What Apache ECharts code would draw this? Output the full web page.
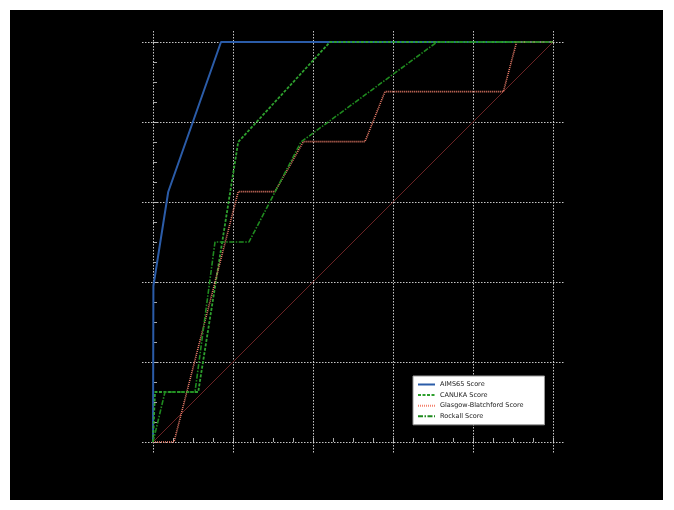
<!DOCTYPE html>
<html>
<head>
<meta charset="utf-8">
<script src="https://cdn.jsdelivr.net/npm/echarts@6/dist/echarts.min.js"></script>
<style>
  body { margin: 0; background: #fff; }
  #wrap { position: absolute; left: 10px; top: 10px; width: 653px; height: 490px; background: #000; }
  #roc { width: 653px; height: 490px; }
</style>
</head>
<body>
<div id="wrap"><div id="roc"></div></div>
<script>
// tick positions
var majorTicks = [0, 0.2, 0.4, 0.6, 0.8, 1.0];
var minorTicks = [0.05, 0.1, 0.15, 0.25, 0.3, 0.35, 0.45, 0.5, 0.55, 0.65, 0.7, 0.75, 0.85, 0.9, 0.95];

// roc curves (fpr / tpr)
var aimsX = [0, 0.001, 0.038, 0.17, 1];
var aimsY = [0, 0.39, 0.625, 1, 1];

var canukaX = [0, 0.005, 0.113, 0.213, 0.4425, 1];
var canukaY = [0, 0.125, 0.125, 0.75, 1, 1];

var glasgowX = [0, 0.0525, 0.213, 0.305, 0.376, 0.53, 0.58, 0.876, 0.909, 1];
var glasgowY = [0, 0, 0.626, 0.626, 0.751, 0.751, 0.876, 0.876, 1, 1];

var rockallX = [0, 0.03, 0.105, 0.155, 0.24, 0.37, 0.71, 1];
var rockallY = [0, 0.125, 0.125, 0.5, 0.5, 0.75, 1, 1];

var chanceX = [0, 1];
var chanceY = [0, 1];

function pairs(xs, ys) {
    var out = [];
    for (var i = 0; i < xs.length; i++) {
        out.push([xs[i], ys[i]]);
    }
    return out;
}

function curve(name, xs, ys, color, width, type) {
    return {
        name: name,
        type: 'line',
        data: pairs(xs, ys),
        symbol: 'none',
        xAxisIndex: 0,
        yAxisIndex: 0,
        itemStyle: { color: color },
        lineStyle: { color: color, width: width, type: type }
    };
}

var gridStyle = { color: 'rgba(220,220,220,0.9)', width: 1, type: [1.5, 1.5] };
var lo = -0.0275, hi = 1.0275;

var mainAxis = function (pos) {
    return {
        type: 'value',
        position: pos,
        min: lo,
        max: hi,
        axisLine: { show: false },
        axisTick: { show: true, inside: true, length: 4, customValues: majorTicks,
                    lineStyle: { color: '#bbb' } },
        axisLabel: { show: true, customValues: majorTicks, color: '#000', fontSize: 9,
                     formatter: function (v) { return v.toFixed(1); } },
        splitLine: { show: true, lineStyle: gridStyle }
    };
};
var minorAxis = function (pos) {
    return {
        type: 'value',
        position: pos,
        offset: 0,
        min: lo,
        max: hi,
        axisLine: { show: false },
        axisTick: { show: true, inside: true, length: 4, customValues: minorTicks,
                    lineStyle: { color: '#aaa' } },
        axisLabel: { show: false },
        splitLine: { show: false }
    };
};

var option = {
    backgroundColor: '#000',
    animation: false,
    grid: { left: 132, top: 21, width: 422, height: 422, outerBoundsMode: 'none' },
    xAxis: [mainAxis('bottom'), minorAxis('bottom')],
    yAxis: [mainAxis('left'), minorAxis('left')],
    legend: {
        data: ['AIMS65 Score', 'CANUKA Score', 'Glasgow-Blatchford Score', 'Rockall Score'],
        orient: 'vertical',
        left: 403,
        top: 366,
        padding: [5, 21, 5, 4],
        itemWidth: 17,
        itemHeight: 7,
        itemGap: 3.6,
        itemStyle: { opacity: 0 },
        backgroundColor: '#fff',
        borderColor: '#999',
        borderWidth: 1,
        borderRadius: 0,
        textStyle: { color: '#222', fontSize: 6.5, lineHeight: 7, fontFamily: 'DejaVu Sans' }
    },
    series: [
        curve('chance', chanceX, chanceY, '#6a2424', 1, 'solid'),
        curve('AIMS65 Score', aimsX, aimsY, '#2b5ca8', 2, 'solid'),
        curve('CANUKA Score', canukaX, canukaY, '#2ea02e', 1.8, [3, 1.5]),
        curve('Glasgow-Blatchford Score', glasgowX, glasgowY, '#f4826e', 1.6, [1, 1]),
        curve('Rockall Score', rockallX, rockallY, '#1f8a1f', 1.6, [5, 1.5, 1.5, 1.5])
    ]
};

var chart = echarts.init(document.getElementById('roc'));
chart.setOption(option);
</script>
</body>
</html>
